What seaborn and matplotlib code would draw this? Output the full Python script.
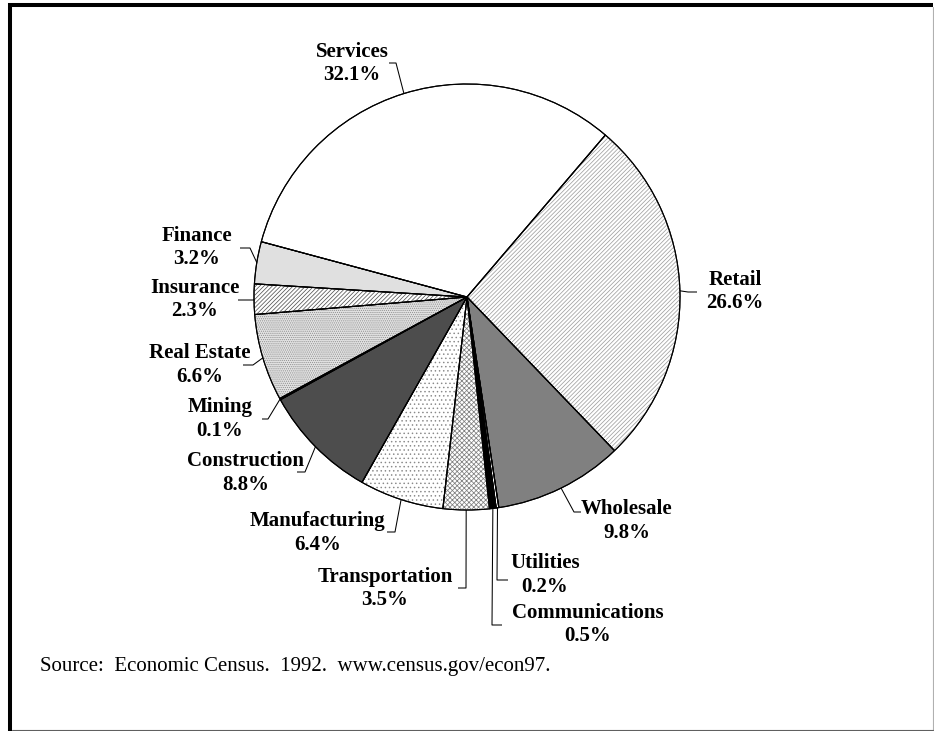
import matplotlib
matplotlib.use("Agg")
import numpy as np
import matplotlib.pyplot as plt
from matplotlib.patches import Wedge
import seaborn as sns

# Share of establishments by sector (percent)
sectors = ["Retail", "Wholesale", "Utilities", "Communications", "Transportation",
           "Manufacturing", "Construction", "Mining", "Real Estate", "Insurance",
           "Finance", "Services"]
shares = [26.6, 9.8, 0.2, 0.5, 3.5, 6.4, 8.8, 0.1, 6.6, 2.3, 3.2, 32.1]
source_note = "Source:  Economic Census.  1992.  www.census.gov/econ97."

W, H = 934, 731

sns.set_theme(style="white")
plt.rcParams["font.family"] = ["Liberation Serif", "DejaVu Serif"]
plt.rcParams["hatch.linewidth"] = 0.55

# Fill colour, hatch pattern and hatch colour per sector
style = {
    "Retail":         ("white",   "////////",  "#a0a0a0"),
    "Wholesale":      ("#808080", None,        None),
    "Utilities":      ("white",   None,        None),
    "Communications": ("black",   None,        None),
    "Transportation": ("white",   "xxxxxxx",   "#808080"),
    "Manufacturing":  ("white",   "....",      "#8a8a8a"),
    "Construction":   ("#4d4d4d", None,        None),
    "Mining":         ("#000080", None,        None),
    "Real Estate":    ("#e2e2e2", "........",  "#909090"),
    "Insurance":      ("white",   "////////",  "#555555"),
    "Finance":        ("#e0e0e0", None,        None),
    "Services":       ("white",   None,        None),
}

# Label placement in pixel coordinates (y measured from the top):
# text centre, leader elbow, leader tail
layout = {
    "Services":       ((352, 63.5), (396, 63), (389, 63)),
    "Retail":         ((735, 291.5), (688, 292), (697, 292)),
    "Wholesale":      ((627, 521), (574, 512), (581, 512)),
    "Utilities":      ((545, 575), (497, 580), (508, 580)),
    "Communications": ((588, 624.5), (492, 625), (502, 625)),
    "Transportation": ((385, 588.5), (466, 588), (458, 588)),
    "Manufacturing":  ((318, 533), (395, 532), (387, 532)),
    "Construction":   ((246, 473), (305, 472), (297, 472)),
    "Mining":         ((220, 419), (268, 419), (262, 419)),
    "Real Estate":    ((200, 365), (253, 365), (243, 365)),
    "Insurance":      ((195, 299.5), (254, 300), (238, 300)),
    "Finance":        ((197, 247.5), (250, 248), (240, 248)),
}

fig = plt.figure(figsize=(W / 100, H / 100), dpi=100)
ax = fig.add_axes([0, 0, 1, 1])

cx, cy, R = 467, H - 297, 213
wedges, _ = ax.pie(
    shares,
    colors=[style[s][0] for s in sectors],
    startangle=49.5,
    counterclock=False,
    center=(cx, cy),
    radius=R,
    frame=True,
    wedgeprops=dict(edgecolor="black", linewidth=0.8),
)

for name, w in zip(sectors, wedges):
    face, hatch, hcol = style[name]
    if hatch:
        ax.add_patch(Wedge((cx, cy), R, w.theta1, w.theta2, facecolor="none",
                           edgecolor=hcol, hatch=hatch, linewidth=0, zorder=2))
    ax.add_patch(Wedge((cx, cy), R, w.theta1, w.theta2, facecolor="none",
                       edgecolor="black", linewidth=0.8, zorder=3))

# Labels with leader lines starting at each wedge's mid-angle on the rim
for name, pct, w in zip(sectors, shares, wedges):
    (tx, ty), (ex, ey), (lx, ly) = layout[name]
    mid = np.deg2rad((w.theta1 + w.theta2) / 2)
    sx, sy = cx + R * np.cos(mid), cy + R * np.sin(mid)
    ax.plot([sx, ex, lx], [sy, H - ey, H - ly], color="black", linewidth=0.75,
            zorder=4, solid_capstyle="butt")
    ax.text(tx, H - ty, f"{name}\n{pct:.1f}%", ha="center", va="center",
            fontsize=15, fontweight="bold", linespacing=1.22, color="black")

ax.text(40, H - 667, source_note, ha="left", va="center", fontsize=15,
        color="black")

# Box around the chart: heavy left/top rules, light right/bottom rules
ax.plot([10, 10], [H - 3, 0], color="black", linewidth=2.9, solid_capstyle="butt")
ax.plot([8, 933], [H - 5, H - 5], color="black", linewidth=2.9, solid_capstyle="butt")
ax.plot([933, 933], [H - 7, 0], color="#b0b0b0", linewidth=0.8)
ax.plot([12, 933], [H - 730, H - 730], color="#606060", linewidth=0.8)

ax.set_xlim(0, W)
ax.set_ylim(0, H)
ax.set_aspect("equal")
ax.set_axis_off()

fig.savefig("out.png", dpi=100, facecolor="white")
